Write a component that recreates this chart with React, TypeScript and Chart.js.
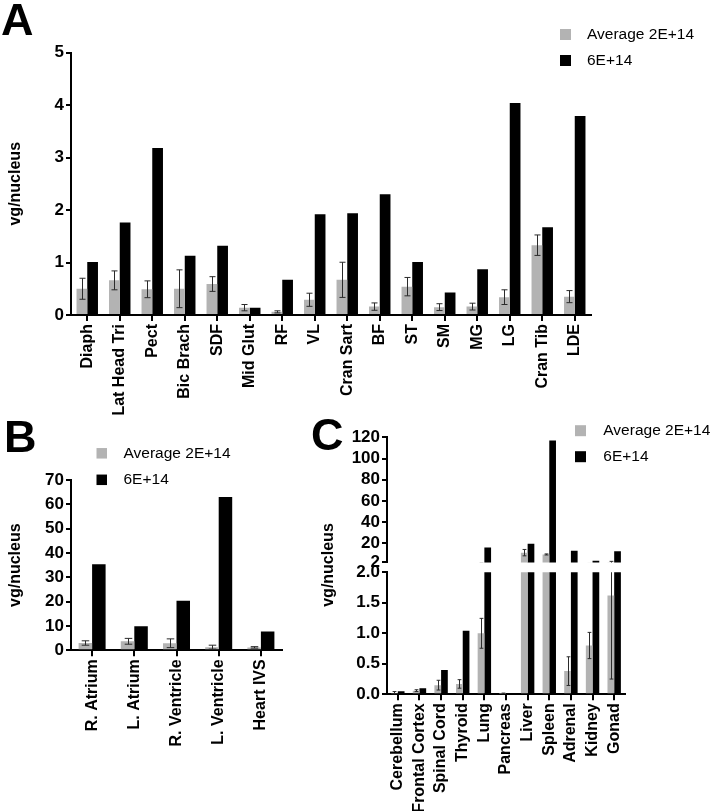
import React, { useEffect, useRef } from 'react';
import { Chart, registerables } from 'chart.js';

Chart.register(...registerables);

const FONT = '"Liberation Sans", Arial, Helvetica, sans-serif';
const GREY = '#b3b3b3';
const BLACK = '#000000';
const ERR_COLOR = '#2b2b2b';
const SERIES_LOW = 'Average 2E+14';
const SERIES_HIGH = '6E+14';
const Y_TITLE = 'vg/nucleus';

// ---- Panel A: skeletal muscles
const muscleLabels = ['Diaph', 'Lat Head Tri', 'Pect', 'Bic Brach', 'SDF', 'Mid Glut', 'RF', 'VL', 'Cran Sart', 'BF', 'ST', 'SM', 'MG', 'LG', 'Cran Tib', 'LDE'];
const muscleLow = [0.50, 0.66, 0.49, 0.50, 0.59, 0.14, 0.06, 0.29, 0.67, 0.16, 0.54, 0.15, 0.16, 0.34, 1.33, 0.35];
const muscleLowErr = [0.20, 0.18, 0.16, 0.36, 0.14, 0.06, 0.02, 0.125, 0.335, 0.07, 0.175, 0.065, 0.065, 0.14, 0.195, 0.115];
const muscleHigh = [1.01, 1.76, 3.18, 1.13, 1.32, 0.14, 0.67, 1.92, 1.94, 2.30, 1.01, 0.43, 0.87, 4.04, 1.67, 3.79];
const muscleTicks = [0, 1, 2, 3, 4, 5];

// ---- Panel B: heart
const heartLabels = ['R. Atrium', 'L. Atrium', 'R. Ventricle', 'L. Ventricle', 'Heart IVS'];
const heartLow = [3.0, 3.7, 2.9, 1.3, 1.2];
const heartLowErr = [0.9, 1.2, 1.8, 0.8, 0.3];
const heartHigh = [35.4, 9.9, 20.4, 63.0, 7.7];
const heartTicks = [0, 10, 20, 30, 40, 50, 60, 70];

// ---- Panel C: other tissues (broken axis)
const tissueLabels = ['Cerebellum', 'Frontal Cortex', 'Spinal Cord', 'Thyroid', 'Lung', 'Pancreas', 'Liver', 'Spleen', 'Adrenal', 'Kidney', 'Gonad'];
const tissueLow = [0.02, 0.06, 0.15, 0.17, 1.00, 0.01, 11.2, 9.5, 0.38, 0.80, 1.62];
const tissueLowErr = [0.025, 0.015, 0.08, 0.07, 0.245, 0.01, 3.0, 0.5, 0.235, 0.215, 1.37];
const tissueHigh = [0.05, 0.10, 0.40, 1.04, 16.0, 0.01, 19.5, 117, 13.0, 3.6, 12.5];
const tissueTopTicks = [2, 20, 40, 60, 80, 100, 120];
const tissueBottomTicks = [0, 0.5, 1, 1.5, 2];

const errorBarPlugin = {
  id: 'errorBars',
  afterDatasetsDraw(chart: any) {
    const { ctx, chartArea } = chart;
    ctx.save();
    ctx.beginPath();
    ctx.rect(chartArea.left, chartArea.top, chartArea.right - chartArea.left, chartArea.bottom - chartArea.top);
    ctx.clip();
    chart.data.datasets.forEach((ds: any, i: number) => {
      if (!ds.errors) return;
      const meta = chart.getDatasetMeta(i);
      const yScale = chart.scales[meta.yAxisID];
      meta.data.forEach((bar: any, j: number) => {
        const v = ds.data[j];
        const e = ds.errors[j];
        if (!e) return;
        const x = Math.round(bar.x) + 0.5;
        const yTop = yScale.getPixelForValue(v + e);
        const yBot = yScale.getPixelForValue(v - e);
        const half = Math.max(1.5, bar.width * 0.28);
        ctx.strokeStyle = ERR_COLOR;
        ctx.lineWidth = 1;
        ctx.beginPath();
        ctx.moveTo(x, yTop);
        ctx.lineTo(x, yBot);
        ctx.moveTo(x - half, yTop);
        ctx.lineTo(x + half, yTop);
        ctx.moveTo(x - half, yBot);
        ctx.lineTo(x + half, yBot);
        ctx.stroke();
      });
    });
    ctx.restore();
  },
};

const boxLegendPlugin = {
  id: 'boxLegend',
  afterDraw(chart: any, _args: any, opts: any) {
    if (!opts || opts.x === undefined) return;
    const { ctx } = chart;
    ctx.save();
    chart.data.datasets.forEach((ds: any, i: number) => {
      const cy = opts.y + i * opts.rowGap;
      ctx.fillStyle = ds.backgroundColor;
      ctx.fillRect(opts.x, cy - opts.box / 2, opts.box, opts.box);
      ctx.fillStyle = BLACK;
      ctx.font = `${opts.fontSize}px ${FONT}`;
      ctx.textBaseline = 'middle';
      ctx.textAlign = 'left';
      ctx.fillText(ds.label, opts.textX, cy);
    });
    ctx.restore();
  },
};

type PanelOpts = {
  labels: string[];
  low: number[];
  lowErr: number[];
  high: number[];
  ticks: number[];
  yWidth: number;
  xHeight: number;
  padding: { left: number; right: number; top: number; bottom: number };
  catPct: number;
  showX: boolean;
  legend?: any;
  decimals?: number;
  yTitle?: boolean;
};

function makeConfig(o: PanelOpts): any {
  const grid = {
    display: true,
    drawOnChartArea: false,
    drawTicks: true,
    tickLength: 5,
    tickWidth: 2,
    tickColor: BLACK,
    color: BLACK,
    lineWidth: 2,
    offset: false,
  };
  const yTicks: any = {
    autoSkip: false,
    color: BLACK,
    font: { family: FONT, size: 17, weight: 'bold' },
    padding: 2,
  };
  if (o.decimals !== undefined) {
    const d = o.decimals;
    yTicks.callback = (v: any) => Number(v).toFixed(d);
  }
  return {
    type: 'bar',
    data: {
      labels: o.labels,
      datasets: [
        { label: SERIES_LOW, data: o.low, errors: o.lowErr, backgroundColor: GREY, borderWidth: 0, categoryPercentage: o.catPct, barPercentage: 1, clip: 0 },
        { label: SERIES_HIGH, data: o.high, backgroundColor: BLACK, borderWidth: 0, categoryPercentage: o.catPct, barPercentage: 1, clip: 0 },
      ],
    },
    options: {
      animation: false,
      responsive: false,
      maintainAspectRatio: false,
      devicePixelRatio: 1,
      events: [],
      layout: { padding: o.padding },
      plugins: {
        legend: { display: false },
        tooltip: { enabled: false },
        boxLegend: o.legend ?? {},
      },
      scales: {
        x: {
          display: o.showX,
          grid: { ...grid, tickLength: 6 },
          border: { display: true, color: BLACK, width: 2 },
          ticks: {
            autoSkip: false,
            minRotation: 90,
            maxRotation: 90,
            color: BLACK,
            font: { family: FONT, size: 16, weight: 'bold' },
            padding: 3,
          },
          afterFit: (s: any) => { s.height = o.xHeight; },
        },
        y: {
          min: o.ticks[0],
          max: o.ticks[o.ticks.length - 1],
          grid,
          border: { display: true, color: BLACK, width: 2 },
          ticks: yTicks,
          afterBuildTicks: (s: any) => { s.ticks = o.ticks.map((v) => ({ value: v })); },
          afterFit: (s: any) => { s.width = o.yWidth; },
          title: o.yTitle
            ? { display: true, text: Y_TITLE, color: BLACK, font: { family: FONT, size: 16, weight: 'bold' }, padding: { top: 6.4, bottom: 0 } }
            : { display: false },
        },
      },
    },
    plugins: [errorBarPlugin, boxLegendPlugin],
  };
}

function ChartCanvas(props: { config: () => any; left: number; top: number; width: number; height: number }) {
  const ref = useRef<HTMLCanvasElement>(null);
  useEffect(() => {
    const chart = new Chart(ref.current as HTMLCanvasElement, props.config());
    return () => chart.destroy();
  }, []);
  return (
    <canvas
      ref={ref}
      width={props.width}
      height={props.height}
      style={{ position: 'absolute', left: props.left, top: props.top, width: props.width, height: props.height }}
    />
  );
}

const legendFont = 15.5;

const configA = () =>
  makeConfig({
    labels: muscleLabels, low: muscleLow, lowErr: muscleLowErr, high: muscleHigh, ticks: muscleTicks,
    yWidth: 71, xHeight: 125, padding: { left: 0, right: 120, top: 52.5, bottom: 0 },
    catPct: 0.66, showX: true, yTitle: true,
    legend: { x: 560, y: 34.5, textX: 587, rowGap: 26, box: 11, fontSize: legendFont },
  });

const configB = () =>
  makeConfig({
    labels: heartLabels, low: heartLow, lowErr: heartLowErr, high: heartHigh, ticks: heartTicks,
    yWidth: 71, xHeight: 160.7, padding: { left: 0, right: 38, top: 75, bottom: 0 },
    catPct: 0.64, showX: true, yTitle: true,
    legend: { x: 96.5, y: 48.3, textX: 123.5, rowGap: 26.5, box: 10.5, fontSize: legendFont },
  });

const configCTop = () =>
  makeConfig({
    labels: tissueLabels, low: tissueLow, lowErr: tissueLowErr, high: tissueHigh, ticks: tissueTopTicks,
    yWidth: 67, xHeight: 0, padding: { left: 0, right: 86, top: 17.3, bottom: 17.6 },
    catPct: 0.62, showX: false,
    legend: { x: 255, y: 10.7, textX: 283.3, rowGap: 26, box: 11, fontSize: legendFont },
  });

const configCBottom = () =>
  makeConfig({
    labels: tissueLabels, low: tissueLow, lowErr: tissueLowErr, high: tissueHigh, ticks: tissueBottomTicks,
    yWidth: 67, xHeight: 116.7, padding: { left: 0, right: 86, top: 17.3, bottom: 0 },
    catPct: 0.62, showX: true, decimals: 1,
  });

const letterStyle: React.CSSProperties = {
  position: 'absolute',
  fontFamily: FONT,
  fontWeight: 'bold',
  fontSize: 45,
  lineHeight: '45px',
  color: BLACK,
};

export default function App() {
  return (
    <div style={{ position: 'absolute', left: 0, top: 0, width: 711, height: 811, background: '#fff', overflow: 'hidden' }}>
      <ChartCanvas config={configA} left={0} top={0} width={711} height={440} />
      <ChartCanvas config={configB} left={0} top={405} width={320} height={406} />
      <ChartCanvas config={configCBottom} left={320} top={555} width={391} height={256} />
      <ChartCanvas config={configCTop} left={320} top={420} width={391} height={160} />
      <div style={{ ...letterStyle, left: 1, top: -3 }}>A</div>
      <div style={{ ...letterStyle, left: 4, top: 414 }}>B</div>
      <div style={{ ...letterStyle, left: 311, top: 412 }}>C</div>
      <div
        style={{
          position: 'absolute', left: 328, top: 565, transform: 'translate(-50%, -50%) rotate(-90deg)',
          fontFamily: FONT, fontWeight: 'bold', fontSize: 16, whiteSpace: 'nowrap', color: BLACK,
        }}
      >
        {Y_TITLE}
      </div>
    </div>
  );
}
